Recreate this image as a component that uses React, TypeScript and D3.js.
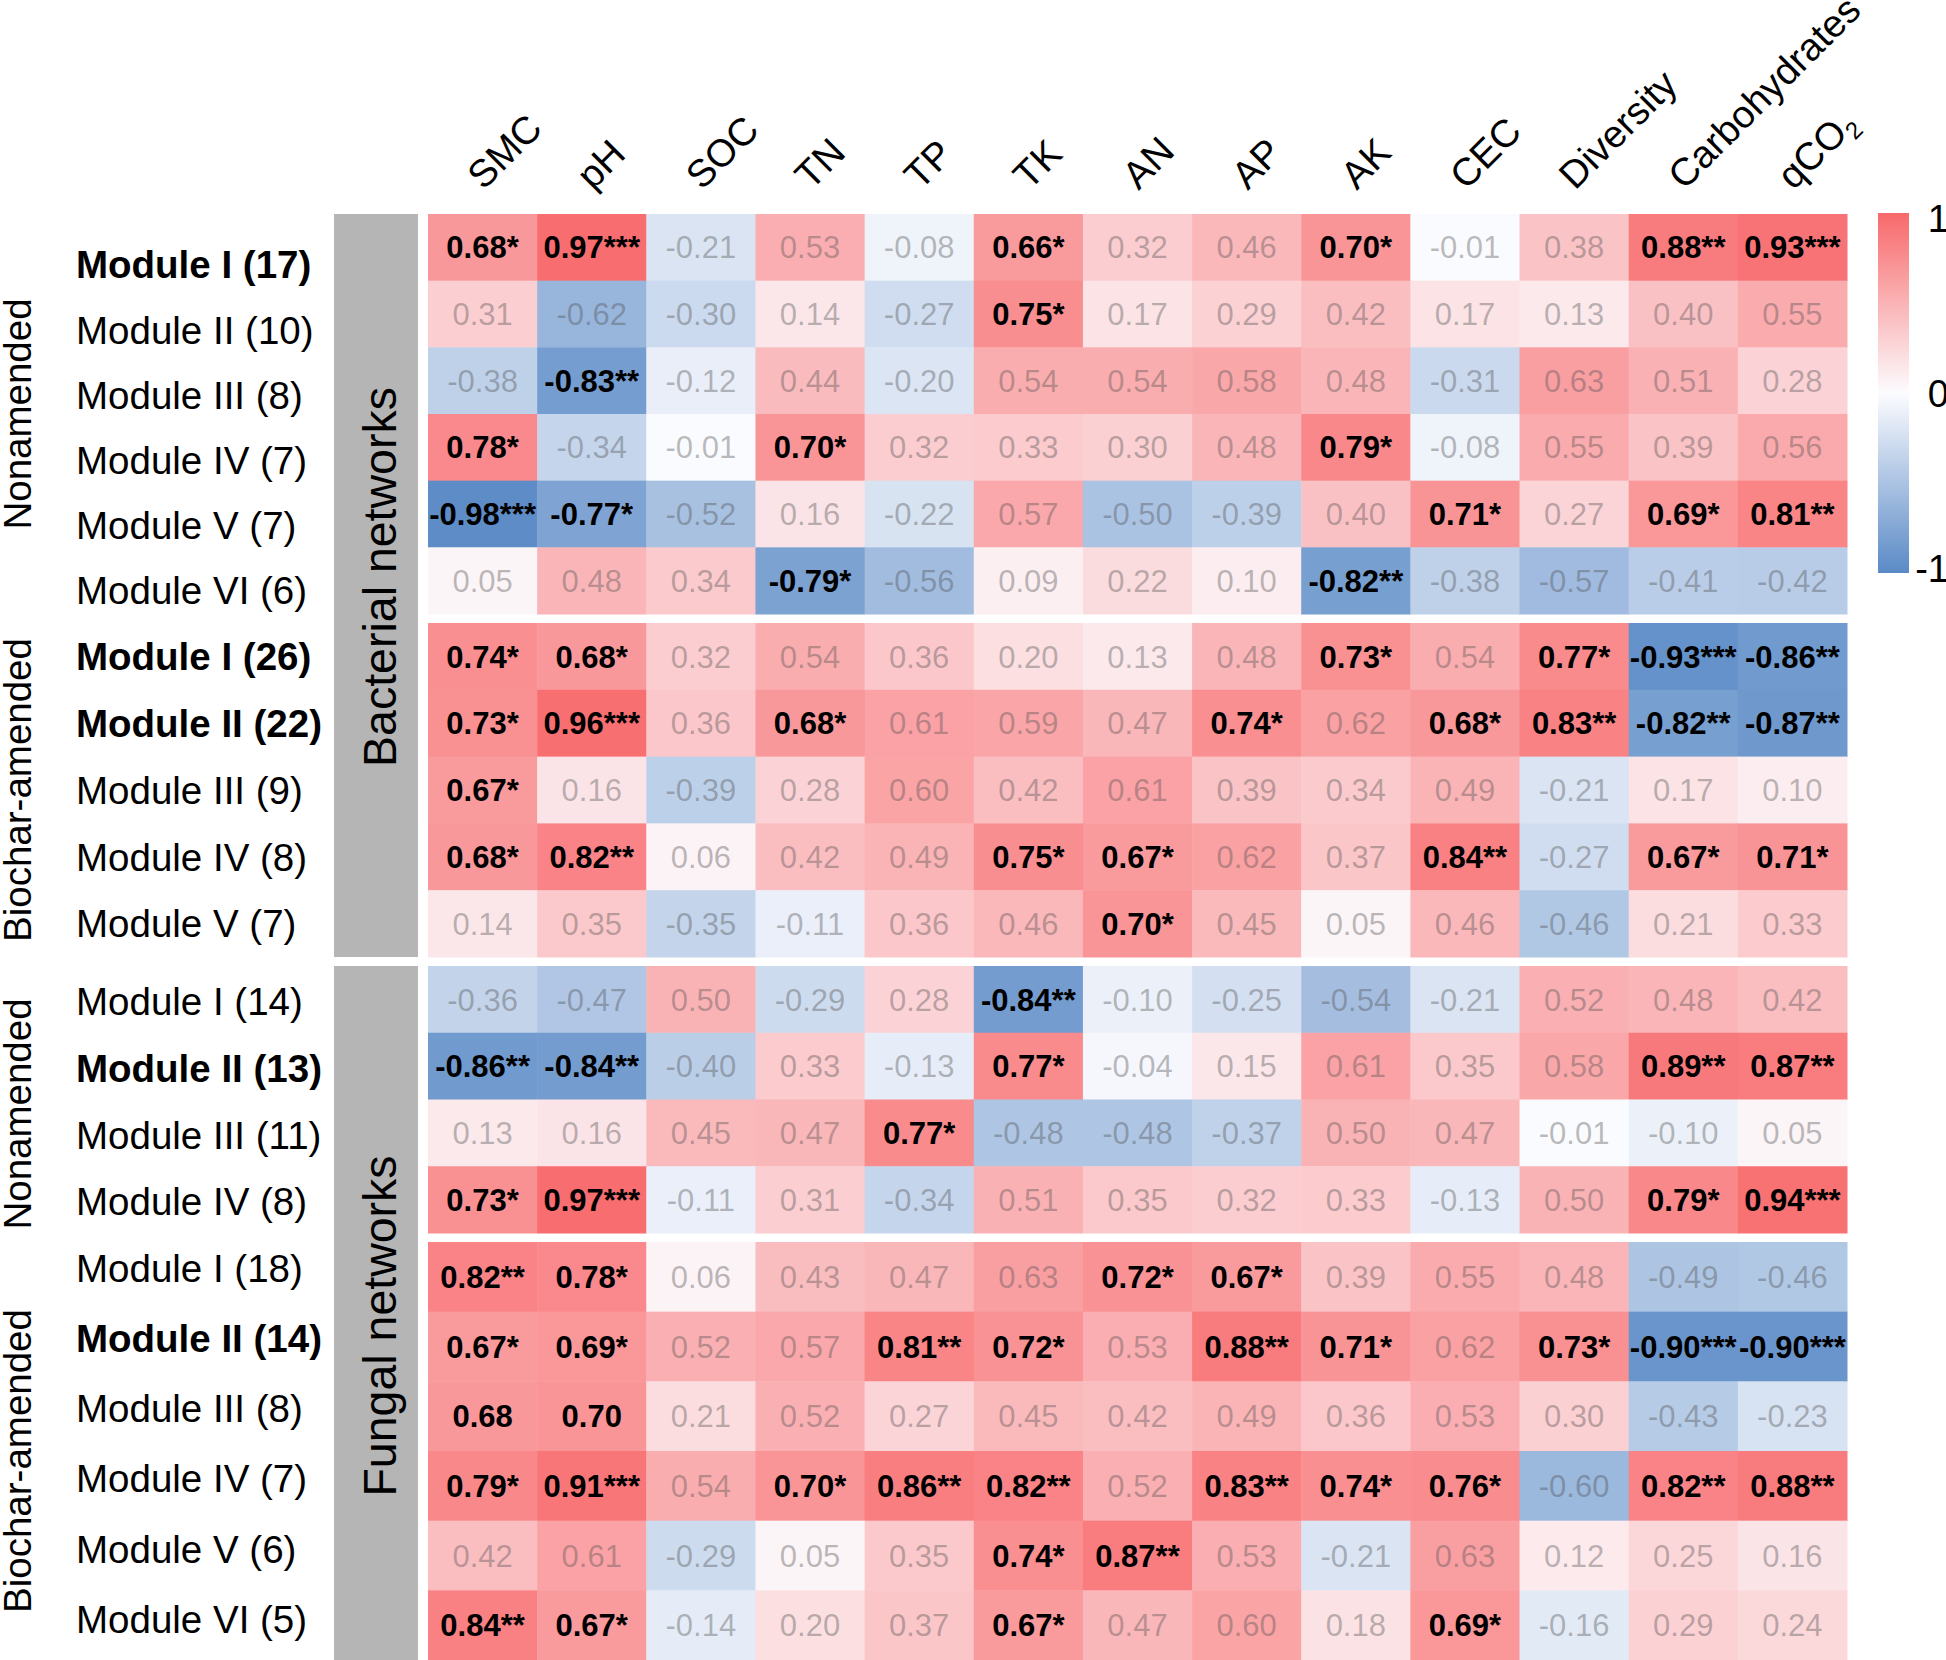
import * as d3 from "d3";

const columns = ["SMC", "pH", "SOC", "TN", "TP", "TK", "AN", "AP", "AK", "CEC", "Diversity", "Carbohydrates", "qCO2"];

// bacterial networks, nonamended soil
const bacNonRows = ["Module I (17)", "Module II (10)", "Module III (8)", "Module IV (7)", "Module V (7)", "Module VI (6)"];
const bacNonBold = [0];
const bacNonCells = [
  ["0.68*", "0.97***", "-0.21", "0.53", "-0.08", "0.66*", "0.32", "0.46", "0.70*", "-0.01", "0.38", "0.88**", "0.93***"],
  ["0.31", "-0.62", "-0.30", "0.14", "-0.27", "0.75*", "0.17", "0.29", "0.42", "0.17", "0.13", "0.40", "0.55"],
  ["-0.38", "-0.83**", "-0.12", "0.44", "-0.20", "0.54", "0.54", "0.58", "0.48", "-0.31", "0.63", "0.51", "0.28"],
  ["0.78*", "-0.34", "-0.01", "0.70*", "0.32", "0.33", "0.30", "0.48", "0.79*", "-0.08", "0.55", "0.39", "0.56"],
  ["-0.98***", "-0.77*", "-0.52", "0.16", "-0.22", "0.57", "-0.50", "-0.39", "0.40", "0.71*", "0.27", "0.69*", "0.81**"],
  ["0.05", "0.48", "0.34", "-0.79*", "-0.56", "0.09", "0.22", "0.10", "-0.82**", "-0.38", "-0.57", "-0.41", "-0.42"],
];

// bacterial networks, biochar-amended soil
const bacBioRows = ["Module I (26)", "Module II (22)", "Module III (9)", "Module IV (8)", "Module V (7)"];
const bacBioBold = [0, 1];
const bacBioCells = [
  ["0.74*", "0.68*", "0.32", "0.54", "0.36", "0.20", "0.13", "0.48", "0.73*", "0.54", "0.77*", "-0.93***", "-0.86**"],
  ["0.73*", "0.96***", "0.36", "0.68*", "0.61", "0.59", "0.47", "0.74*", "0.62", "0.68*", "0.83**", "-0.82**", "-0.87**"],
  ["0.67*", "0.16", "-0.39", "0.28", "0.60", "0.42", "0.61", "0.39", "0.34", "0.49", "-0.21", "0.17", "0.10"],
  ["0.68*", "0.82**", "0.06", "0.42", "0.49", "0.75*", "0.67*", "0.62", "0.37", "0.84**", "-0.27", "0.67*", "0.71*"],
  ["0.14", "0.35", "-0.35", "-0.11", "0.36", "0.46", "0.70*", "0.45", "0.05", "0.46", "-0.46", "0.21", "0.33"],
];

// fungal networks, nonamended soil
const funNonRows = ["Module I (14)", "Module II (13)", "Module III (11)", "Module IV (8)"];
const funNonBold = [1];
const funNonCells = [
  ["-0.36", "-0.47", "0.50", "-0.29", "0.28", "-0.84**", "-0.10", "-0.25", "-0.54", "-0.21", "0.52", "0.48", "0.42"],
  ["-0.86**", "-0.84**", "-0.40", "0.33", "-0.13", "0.77*", "-0.04", "0.15", "0.61", "0.35", "0.58", "0.89**", "0.87**"],
  ["0.13", "0.16", "0.45", "0.47", "0.77*", "-0.48", "-0.48", "-0.37", "0.50", "0.47", "-0.01", "-0.10", "0.05"],
  ["0.73*", "0.97***", "-0.11", "0.31", "-0.34", "0.51", "0.35", "0.32", "0.33", "-0.13", "0.50", "0.79*", "0.94***"],
];

// fungal networks, biochar-amended soil
const funBioRows = ["Module I (18)", "Module II (14)", "Module III (8)", "Module IV (7)", "Module V (6)", "Module VI (5)"];
const funBioBold = [1];
const funBioCells = [
  ["0.82**", "0.78*", "0.06", "0.43", "0.47", "0.63", "0.72*", "0.67*", "0.39", "0.55", "0.48", "-0.49", "-0.46"],
  ["0.67*", "0.69*", "0.52", "0.57", "0.81**", "0.72*", "0.53", "0.88**", "0.71*", "0.62", "0.73*", "-0.90***", "-0.90***"],
  ["0.68", "0.70", "0.21", "0.52", "0.27", "0.45", "0.42", "0.49", "0.36", "0.53", "0.30", "-0.43", "-0.23"],
  ["0.79*", "0.91***", "0.54", "0.70*", "0.86**", "0.82**", "0.52", "0.83**", "0.74*", "0.76*", "-0.60", "0.82**", "0.88**"],
  ["0.42", "0.61", "-0.29", "0.05", "0.35", "0.74*", "0.87**", "0.53", "-0.21", "0.63", "0.12", "0.25", "0.16"],
  ["0.84**", "0.67*", "-0.14", "0.20", "0.37", "0.67*", "0.47", "0.60", "0.18", "0.69*", "-0.16", "0.29", "0.24"],
];
// cells printed in bold although no star is attached: [group, row, col]
const boldNoStar = [[3, 2, 0], [3, 2, 1]];

const groups = [
  { treatment: "Nonamended", rows: bacNonRows, cells: bacNonCells, bold: bacNonBold },
  { treatment: "Biochar-amended", rows: bacBioRows, cells: bacBioCells, bold: bacBioBold },
  { treatment: "Nonamended", rows: funNonRows, cells: funNonCells, bold: funNonBold },
  { treatment: "Biochar-amended", rows: funBioRows, cells: funBioCells, bold: funBioBold },
];
const networks = [
  { label: "Bacterial networks", groups: [0, 1] },
  { label: "Fungal networks", groups: [2, 3] },
];

// layout
const W = 1946;
const H = 1660;
const bands: [number, number][] = [[214, 614], [623, 957], [966, 1233], [1242, 1660]];
// row labels do not sit exactly on the cell rows in the original
const labelBands: [number, number][] = [[232, 623], [623, 957], [968, 1235], [1233, 1654]];
const treatmentMid = [414, 790, 1114, 1461];
const networkMid = [577, 1326];
const font = "'Liberation Sans', Arial, Helvetica, sans-serif";

const x = d3.scaleBand<string>().domain(columns).range([428, 1847]);
const color = d3.scaleLinear<string>().domain([-1, 0, 1]).range(["#5A8AC6", "#FCFCFF", "#F8696B"]);
const cbar = d3.scaleLinear().domain([1, -1]).range([213, 573]);

export default function App() {
  return (
    <svg width={W} height={H} style={{ position: "absolute", left: 0, top: 0, background: "#fff" }} fontFamily={font}>
      <defs>
        <linearGradient id="cb" x1="0" y1="0" x2="0" y2="1">
          {d3.range(0, 1.0001, 0.05).map((t) => (
            <stop key={t} offset={t} stopColor={color(1 - 2 * t)} />
          ))}
        </linearGradient>
      </defs>

      {/* column labels */}
      {columns.map((c) => (
        <text
          key={c}
          transform={`translate(${x(c)! + x.bandwidth() / 2 + 1},191) rotate(-45)`}
          fontSize={38.5}
          fill="#000"
        >
          {c === "qCO2" ? (
            <>
              qCO<tspan dy={8} fontSize={24}>2</tspan>
            </>
          ) : (
            c
          )}
        </text>
      ))}

      {/* network side bars */}
      {networks.map((n, ni) => {
        const y0 = bands[n.groups[0]][0];
        const y1 = bands[n.groups[n.groups.length - 1]][1];
        return (
          <g key={n.label}>
            <rect x={334} y={y0} width={84} height={y1 - y0} fill="#b5b5b5" />
            <text transform={`translate(396,${networkMid[ni]}) rotate(-90)`} textAnchor="middle" fontSize={46.5}>
              {n.label}
            </text>
          </g>
        );
      })}

      {groups.map((g, gi) => {
        const y = d3.scaleBand<number>().domain(d3.range(g.rows.length)).range(bands[gi]);
        const ly = d3.scaleBand<number>().domain(d3.range(g.rows.length)).range(labelBands[gi]);
        return (
          <g key={gi}>
            <text transform={`translate(31,${treatmentMid[gi]}) rotate(-90)`} textAnchor="middle" fontSize={38.5}>
              {g.treatment}
            </text>
            {g.rows.map((r, ri) => (
              <text
                key={r}
                x={76}
                y={ly(ri)! + ly.bandwidth() / 2}
                dy="0.36em"
                fontSize={38.5}
                fontWeight={g.bold.includes(ri) ? "bold" : "normal"}
              >
                {r}
              </text>
            ))}
            {g.cells.map((row, ri) =>
              row.map((s, ci) => {
                const v = parseFloat(s);
                const sig = s.includes("*") || boldNoStar.some((b) => b[0] === gi && b[1] === ri && b[2] === ci);
                const cx = x(columns[ci])!;
                const cy = y(ri)!;
                return (
                  <g key={`${ri}-${ci}`}>
                    <rect x={cx} y={cy} width={x.bandwidth() + 0.5} height={y.bandwidth() + 0.5} fill={color(v)} />
                    <text
                      x={cx + x.bandwidth() / 2}
                      y={cy + y.bandwidth() / 2}
                      dy="0.36em"
                      textAnchor="middle"
                      fontSize={31}
                      fontWeight={sig ? "bold" : "normal"}
                      fill={sig ? "#000" : "#4d4d4d"}
                      fillOpacity={sig ? 1 : 0.38}
                    >
                      {s}
                    </text>
                  </g>
                );
              })
            )}
          </g>
        );
      })}

      {/* colour bar */}
      <rect x={1878} y={cbar(1)} width={31} height={cbar(-1) - cbar(1)} fill="url(#cb)" />
      {[1, 0, -1].map((t) => (
        <text key={t} x={1949} y={cbar(t) + (t === 1 ? 5 : t === -1 ? -5 : 0)} dy="0.36em" textAnchor="end" fontSize={38}>
          {t}
        </text>
      ))}
    </svg>
  );
}
